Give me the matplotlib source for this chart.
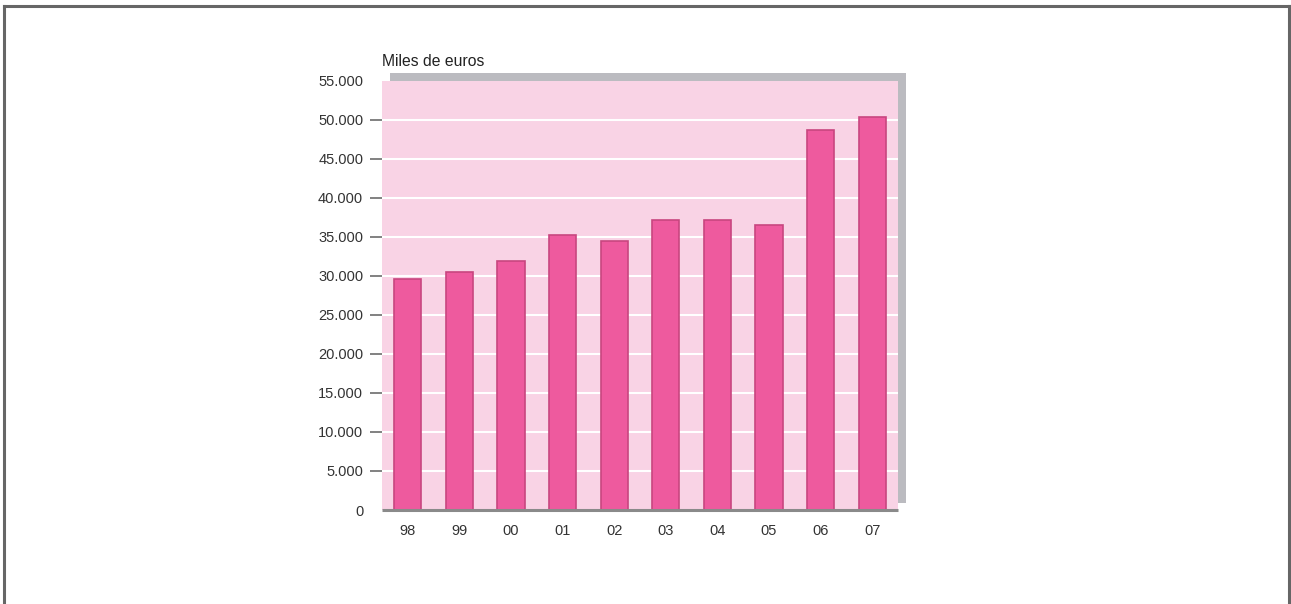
import matplotlib
matplotlib.use("Agg")
import matplotlib.pyplot as plt
from matplotlib.patches import Rectangle
from matplotlib.lines import Line2D
from matplotlib.ticker import FuncFormatter

years = ["98", "99", "00", "01", "02", "03", "04", "05", "06", "07"]
values = [29650, 30450, 31850, 35180, 34450, 37180, 37200, 36460, 48680, 50380]
yticks = list(range(0, 55001, 5000))
ylabel_text = "Miles de euros"

plt.rcParams['font.family'] = ['Liberation Sans Narrow', 'Liberation Sans', 'DejaVu Sans']

W, H = 1291, 604
fig = plt.figure(figsize=(W / 100, H / 100), dpi=100)
fig.patch.set_facecolor("white")

# outer frame
for (xs, ys) in [((4 / W, 4 / W), (0, 1 - 6 / H)),
                 ((4 / W, 1289 / W), (1 - 6 / H, 1 - 6 / H)),
                 ((1289 / W, 1289 / W), (0, 1 - 6 / H))]:
    fig.add_artist(Line2D(xs, ys, color="#666666", lw=2.2, transform=fig.transFigure))

# axes geometry (pixels)
L, R, T, B = 382, 898, 80.7, 510
ax = fig.add_axes([L / W, (H - B) / H, (R - L) / W, (B - T) / H])

# shadow
shadow = Rectangle((390 / W, (H - 502.7) / H), 516 / W, (502.7 - 73) / H,
                   transform=fig.transFigure, facecolor="#BBBBC0", edgecolor="none", zorder=0)
fig.patches.append(shadow)
ax.set_zorder(1)

ax.set_facecolor("#F9D3E5")
x = list(range(len(years)))
ax.bar(x, values, width=0.53, color="#EE5A9E", edgecolor="#C8467F", linewidth=1.2, zorder=3)

ax.set_xlim(-0.5, len(years) - 0.5)
ax.set_ylim(0, 55000)
ax.set_yticks(yticks)
ax.yaxis.set_major_formatter(FuncFormatter(lambda v, p: f"{int(v):,}".replace(",", ".")))
ax.set_xticks(x)
ax.set_xticklabels(years)

for v in yticks[1:-1]:
    ax.axhline(v, color="white", lw=1.5, zorder=2)

for s in ["top", "right", "left"]:
    ax.spines[s].set_visible(False)
ax.spines["bottom"].set_color("#8A8A8A")
ax.spines["bottom"].set_linewidth(2.2)
ax.spines["bottom"].set_zorder(4)
ax.spines["bottom"].set_capstyle("butt")

ax.tick_params(axis="y", length=9, width=1.3, color="#777777", pad=4.5, labelsize=10.5, labelcolor="#333333")
ax.tick_params(axis="x", length=0, pad=10, labelsize=10.5, labelcolor="#333333")
ticks = ax.yaxis.get_major_ticks()
ticks[0].tick1line.set_visible(False)
ticks[-1].tick1line.set_visible(False)

fig.text(L / W, 1 - 62 / H, ylabel_text, fontsize=11.3, color="#222222",
         family=['Liberation Sans', 'DejaVu Sans'], va="center", ha="left")

fig.savefig("out.png", dpi=100, facecolor="white")
